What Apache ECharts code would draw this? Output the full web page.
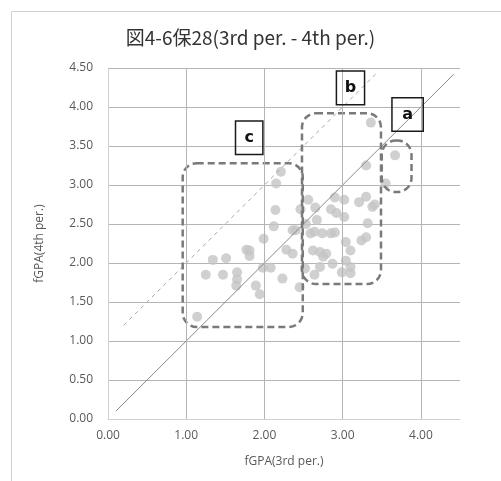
<!DOCTYPE html>
<html>
<head>
<meta charset="utf-8">
<script src="https://cdn.jsdelivr.net/npm/echarts@6/dist/echarts.min.js"></script>
<style>
  html, body { margin: 0; padding: 0; background: #fff; }
  #chart { width: 501px; height: 481px; }
</style>
</head>
<body>
<div id="chart"></div>
<script>
// fGPA for each student: 3rd period (x) and 4th period (y)
const gpa3rd = [
  1.14, 1.25, 1.34, 1.47, 1.51, 1.65, 1.65, 1.64, 1.77, 1.81, 1.81, 1.89, 1.94, 1.99,
  1.98, 2.08, 2.12, 2.14, 2.15, 2.21, 2.23, 2.28, 2.36, 2.36, 2.40, 2.46, 2.45,
  2.52, 2.53, 2.56, 2.65, 2.67, 2.59, 2.64, 2.74, 2.85, 2.90, 2.62, 2.71, 2.79,
  2.75, 2.87, 2.71, 2.64, 2.99, 3.10, 3.10, 3.04, 3.10, 3.04, 3.24, 3.30, 3.32,
  3.21, 3.30, 3.02, 3.02, 2.92, 2.85, 2.90, 3.38, 3.41, 3.30, 3.36,
  3.67, 3.55
];
const gpa4th = [
  1.31, 1.85, 2.04, 1.85, 2.06, 1.88, 1.79, 1.71, 2.17, 2.16, 2.09, 1.71, 1.60, 2.31,
  1.94, 1.94, 2.47, 2.68, 3.02, 3.17, 1.80, 2.17, 2.12, 2.42, 2.42, 2.69, 1.69,
  1.93, 2.50, 2.81, 2.71, 2.55, 2.38, 2.40, 2.38, 2.38, 2.39, 2.16, 2.14, 2.12,
  2.08, 1.99, 1.95, 1.85, 1.88, 1.87, 1.95, 2.03, 2.16, 2.27, 2.29, 2.33, 2.51,
  2.78, 2.85, 2.81, 2.59, 2.64, 2.69, 2.84, 2.72, 2.75, 3.25, 3.80,
  3.38, 3.02
];

// Reference lines: y = x and y = x + 1
const equalLine = [[0.1, 0.1], [4.42, 4.42]];
const plusOneLine = [[0.2, 1.2], [3.42, 4.42]];

// Group outlines in data units: [xMin, yMin, xMax, yMax]
const groupRegions = [
  [0.955, 1.18, 2.49, 3.28],
  [2.48, 1.73, 3.49, 3.92],
  [3.50, 2.91, 3.88, 3.57]
];
// Group tags: [letter, xMin, yMin, xMax, yMax]
const groupTags = [
  ['a', 3.63, 3.69, 4.03, 4.12],
  ['b', 2.92, 4.03, 3.28, 4.46],
  ['c', 1.63, 3.39, 1.98, 3.82]
];

const xTicks = [1, 2, 3, 4];

const points = gpa3rd.map((x, i) => [x, gpa4th[i]]);

const chart = echarts.init(document.getElementById('chart'), null, { renderer: 'canvas' });

const labelFont = 'Open Sans, "Noto Sans CJK JP", sans-serif';

chart.setOption({
  animation: false,
  backgroundColor: '#fff',
  title: {
    text: '図4-6保28(3rd per. - 4th per.)',
    left: 'center',
    top: 23,
    textStyle: {
      fontFamily: '"Noto Sans CJK JP", sans-serif',
      fontSize: 19,
      fontWeight: 'normal',
      color: '#333'
    }
  },
  graphic: [{
    type: 'rect',
    shape: { x: 11.5, y: 11.5, width: 600, height: 600 },
    style: { fill: 'none', stroke: '#d0d0d0', lineWidth: 1 },
    silent: true,
    z: -10
  }],
  grid: { left: 108, right: 41, top: 68, bottom: 62 },
  xAxis: {
    type: 'value',
    min: 0,
    max: 4.5,
    interval: 1,
    name: 'fGPA(3rd per.)',
    nameLocation: 'middle',
    nameGap: 37,
    nameTextStyle: { fontFamily: labelFont, fontSize: 12, color: '#595959' },
    axisLine: { show: true, lineStyle: { color: '#d0d0d0', width: 1 } },
    axisTick: { show: false },
    splitLine: { show: false },
    axisLabel: {
      showMaxLabel: false,
      margin: 11,
      fontFamily: labelFont,
      fontSize: 12,
      color: '#595959',
      formatter: v => v.toFixed(2)
    }
  },
  yAxis: {
    type: 'value',
    min: 0,
    max: 4.5,
    interval: 0.5,
    name: 'fGPA(4th per.)',
    nameLocation: 'middle',
    nameGap: 62,
    nameTextStyle: { fontFamily: labelFont, fontSize: 12, color: '#595959' },
    axisLine: { show: true, lineStyle: { color: '#d0d0d0', width: 1 } },
    axisTick: { show: false },
    splitLine: { show: true, lineStyle: { color: '#b4b4b4', width: 1 } },
    axisLabel: {
      margin: 15,
      fontFamily: labelFont,
      fontSize: 12,
      color: '#595959',
      formatter: v => v.toFixed(2)
    }
  },
  series: [
    {
      // vertical grid lines at the labelled x ticks
      type: 'line',
      data: [],
      silent: true,
      markLine: {
        silent: true,
        symbol: 'none',
        label: { show: false },
        lineStyle: { color: '#b4b4b4', width: 1, type: 'solid' },
        data: xTicks.map(v => ({ xAxis: v }))
      },
      z: 1
    },
    {
      type: 'scatter',
      data: points,
      symbolSize: 10,
      itemStyle: { color: '#c4c4c4' },
      z: 2
    },
    {
      type: 'line',
      data: equalLine,
      symbol: 'none',
      lineStyle: { color: '#8a8a8a', width: 1 },
      z: 3
    },
    {
      type: 'line',
      data: plusOneLine,
      symbol: 'none',
      lineStyle: { color: '#a8a8a8', width: 1, type: [4, 4] },
      z: 3
    },
    {
      type: 'custom',
      data: groupRegions,
      silent: true,
      renderItem: (params, api) => {
        const p0 = api.coord([api.value(0), api.value(3)]);
        const p1 = api.coord([api.value(2), api.value(1)]);
        return {
          type: 'rect',
          shape: { x: p0[0], y: p0[1], width: p1[0] - p0[0], height: p1[1] - p0[1], r: 14 },
          style: { fill: 'none', stroke: '#7a7a7a', lineWidth: 2.5, lineDash: [7, 4] }
        };
      },
      z: 4
    },
    {
      type: 'custom',
      data: groupTags,
      silent: true,
      dimensions: ['tag', 'x0', 'y0', 'x1', 'y1'],
      encode: { x: [1, 3], y: [2, 4] },
      renderItem: (params, api) => {
        const p0 = api.coord([api.value(1), api.value(4)]);
        const p1 = api.coord([api.value(3), api.value(2)]);
        const w = p1[0] - p0[0];
        const h = p1[1] - p0[1];
        return {
          type: 'group',
          children: [
            {
              type: 'rect',
              shape: { x: p0[0], y: p0[1], width: w, height: h },
              style: { fill: 'none', stroke: '#1a1a1a', lineWidth: 1.5 }
            },
            {
              type: 'text',
              style: {
                text: groupTags[params.dataIndex][0],
                x: p0[0] + w / 2,
                y: p0[1] + h / 2,
                align: 'center',
                verticalAlign: 'middle',
                fontFamily: '"DejaVu Sans", sans-serif',
                fontWeight: 'bold',
                fontSize: 16,
                fill: '#111'
              }
            }
          ]
        };
      },
      z: 5
    }
  ]
});
</script>
</body>
</html>
